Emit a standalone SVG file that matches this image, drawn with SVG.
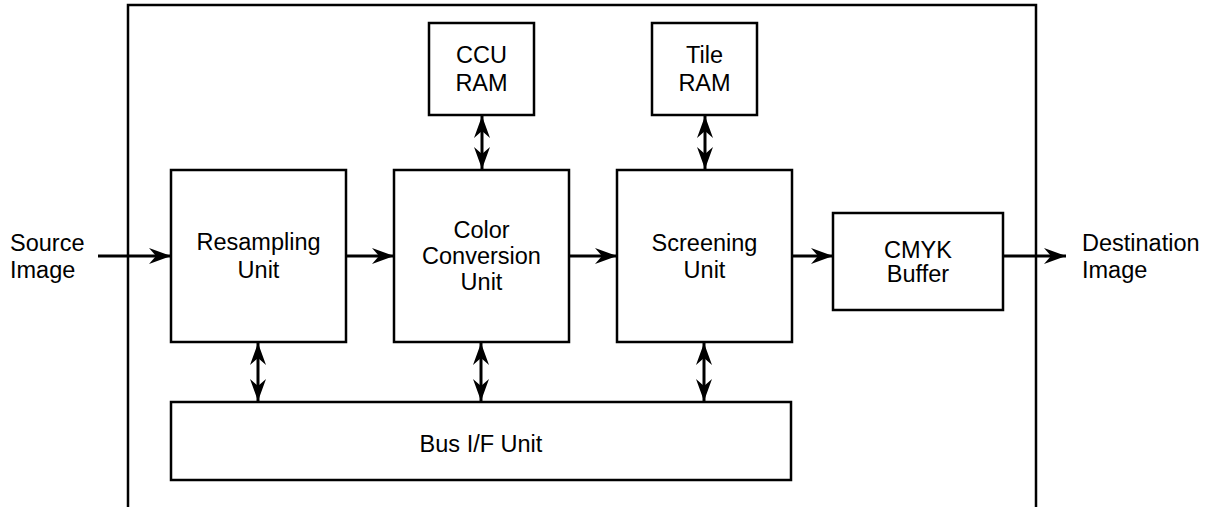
<svg xmlns="http://www.w3.org/2000/svg" width="1206" height="507" viewBox="0 0 1206 507">
<style>
.box{fill:#fff;stroke:#000;stroke-width:2.5}
.frame{fill:none;stroke:#000;stroke-width:2.5}
.t{font-family:"Liberation Sans",Arial,sans-serif;font-size:23.5px;fill:#000}
.c{text-anchor:middle}
.ln{stroke:#000;stroke-width:3;fill:none}
.one{marker-end:url(#ah)}
.two{marker-start:url(#ah);marker-end:url(#ah)}
</style>
<defs>
<marker id="ah" markerUnits="userSpaceOnUse" viewBox="-22 -8 22 16" refX="0" refY="0" markerWidth="22" markerHeight="16" orient="auto-start-reverse">
<path d="M0,0 L-22,-8 L-15,0 L-22,8 Z" fill="#000"/>
</marker>
</defs>
<g id="frame"><path class="frame" d="M128,507 V5 H1036 V507"/></g>
<g id="connectors">
<line class="ln one" x1="98" y1="256" x2="171" y2="256"/>
<line class="ln one" x1="346" y1="256" x2="394" y2="256"/>
<line class="ln one" x1="569" y1="256" x2="617" y2="256"/>
<line class="ln one" x1="792" y1="256" x2="833" y2="256"/>
<line class="ln one" x1="1003" y1="256" x2="1066" y2="256"/>
<line class="ln two" x1="482" y1="116" x2="482" y2="169"/>
<line class="ln two" x1="705" y1="116" x2="705" y2="169"/>
<line class="ln two" x1="258" y1="343" x2="258" y2="401"/>
<line class="ln two" x1="481" y1="343" x2="481" y2="401"/>
<line class="ln two" x1="704" y1="343" x2="704" y2="401"/>
</g>
<g id="source"><text class="t" x="10" y="251">Source</text><text class="t" x="10" y="278">Image</text></g>
<g id="destination"><text class="t" x="1082" y="251">Destination</text><text class="t" x="1082" y="278">Image</text></g>
<g id="resampling"><rect class="box" x="171" y="170" width="175" height="172"/><text class="t c" x="258.5" y="250">Resampling</text><text class="t c" x="258.5" y="278">Unit</text></g>
<g id="colorconv"><rect class="box" x="394" y="170" width="175" height="172"/><text class="t c" x="481.5" y="238">Color</text><text class="t c" x="481.5" y="264">Conversion</text><text class="t c" x="481.5" y="290">Unit</text></g>
<g id="screening"><rect class="box" x="617" y="170" width="175" height="172"/><text class="t c" x="704.5" y="251">Screening</text><text class="t c" x="704.5" y="278">Unit</text></g>
<g id="ccuram"><rect class="box" x="429" y="23" width="105" height="92"/><text class="t c" x="481.5" y="63">CCU</text><text class="t c" x="481.5" y="91">RAM</text></g>
<g id="tileram"><rect class="box" x="652" y="23" width="105" height="92"/><text class="t c" x="704.5" y="63">Tile</text><text class="t c" x="704.5" y="91">RAM</text></g>
<g id="cmyk"><rect class="box" x="833" y="213" width="170" height="97"/><text class="t c" x="918" y="258">CMYK</text><text class="t c" x="918" y="282">Buffer</text></g>
<g id="busif"><rect class="box" x="171" y="402" width="620" height="78"/><text class="t c" x="481" y="452">Bus I/F Unit</text></g>
</svg>
